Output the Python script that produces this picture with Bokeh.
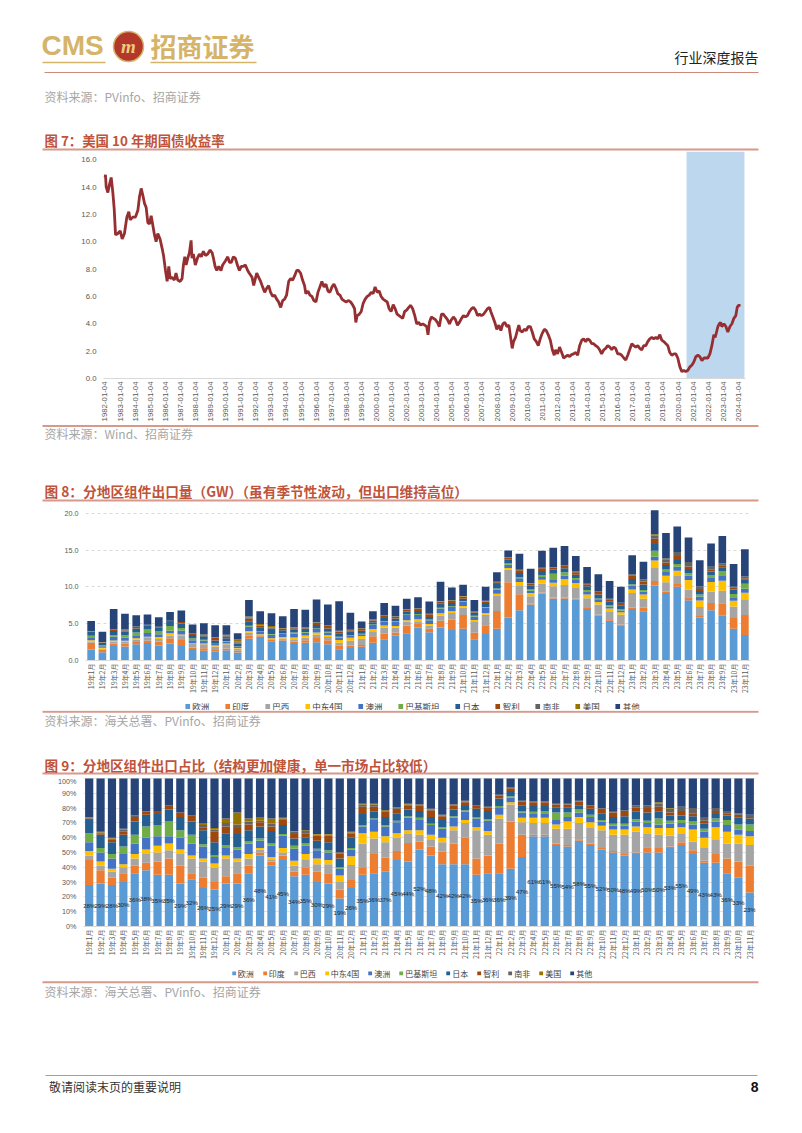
import math
from datetime import datetime
from bokeh.plotting import figure
from bokeh.layouts import column
from bokeh.models import (Range1d, FactorRange, Label, BoxAnnotation, Legend, LegendItem,
                          FixedTicker, NumeralTickFormatter, DatetimeTickFormatter, ColumnDataSource)
from bokeh.embed import file_html
from bokeh.resources import INLINE
from bokeh.core.properties import value

W = 802
CJK = "Noto Sans CJK SC"
LAT = "Liberation Sans"
GOLD = "#D5B469"
SALMON = "#D6998A"
TITLE = "#C0533A"
SRC = "#A6A6A6"
TICK = "#595959"

# ---------------- Figure 7 data: US 10Y yield (decimal year, %) ----------------
yield_t = [1982.00, 1982.04, 1982.09, 1982.20, 1982.31, 1982.42, 1982.53, 1982.62, 1982.71, 1982.86,
           1983.02, 1983.15, 1983.30, 1983.46, 1983.59, 1983.68, 1983.85, 1984.03, 1984.19, 1984.30,
           1984.41, 1984.52, 1984.63, 1984.74, 1984.85, 1984.96, 1985.07, 1985.18, 1985.29, 1985.40,
           1985.51, 1985.66, 1985.80, 1985.89, 1986.02, 1986.13, 1986.24, 1986.33, 1986.46, 1986.61,
           1986.72, 1986.83, 1986.99, 1987.12, 1987.21, 1987.30, 1987.39, 1987.50, 1987.61, 1987.72,
           1987.78, 1987.87, 1988.00, 1988.14, 1988.27, 1988.40, 1988.53, 1988.67, 1988.82, 1988.98,
           1989.11, 1989.20, 1989.31, 1989.42, 1989.55, 1989.70, 1989.81, 1989.99, 1990.15, 1990.26,
           1990.39, 1990.52, 1990.65, 1990.79, 1990.92, 1991.05, 1991.18, 1991.32, 1991.47, 1991.58,
           1991.76, 1991.87, 1991.98, 1992.07, 1992.20, 1992.33, 1992.46, 1992.60, 1992.73, 1992.86,
           1992.99, 1993.13, 1993.26, 1993.39, 1993.52, 1993.66, 1993.79, 1993.92, 1994.05, 1994.19,
           1994.32, 1994.45, 1994.58, 1994.72, 1994.85, 1994.98, 1995.11, 1995.24, 1995.33, 1995.47,
           1995.60, 1995.73, 1995.86, 1996.00, 1996.13, 1996.26, 1996.39, 1996.53, 1996.66, 1996.79,
           1996.92, 1997.06, 1997.19, 1997.32, 1997.45, 1997.59, 1997.72, 1997.85, 1997.98, 1998.16,
           1998.29, 1998.42, 1998.56, 1998.64, 1998.73, 1998.87, 1999.00, 1999.13, 1999.26, 1999.40,
           1999.53, 1999.66, 1999.79, 1999.92, 2000.06, 2000.19, 2000.32, 2000.45, 2000.59, 2000.72,
           2000.85, 2000.98, 2001.12, 2001.25, 2001.38,
           2001.75, 2001.88, 2002.01, 2002.15, 2002.28, 2002.41, 2002.55, 2002.68, 2002.81, 2002.94,
           2003.08, 2003.21, 2003.34, 2003.43, 2003.52, 2003.65, 2003.79, 2003.92, 2004.05, 2004.18,
           2004.32, 2004.45, 2004.58, 2004.72, 2004.85, 2004.98, 2005.11, 2005.25, 2005.38, 2005.51,
           2005.65, 2005.78, 2005.91, 2006.04, 2006.18, 2006.31, 2006.44, 2006.58, 2006.71, 2006.84,
           2006.97, 2007.11, 2007.24, 2007.37, 2007.51, 2007.59, 2007.73, 2007.86, 2007.99, 2008.13,
           2008.26, 2008.39, 2008.52, 2008.66, 2008.79, 2008.92, 2009.01, 2009.10, 2009.23, 2009.37,
           2009.45, 2009.54, 2009.68, 2009.81, 2009.94, 2010.07, 2010.21, 2010.34, 2010.47, 2010.61,
           2010.74, 2010.87, 2011.00, 2011.14, 2011.27, 2011.40, 2011.54, 2011.67, 2011.80, 2011.89,
           2012.02, 2012.15, 2012.29, 2012.42, 2012.55, 2012.69, 2012.82, 2012.95, 2013.08, 2013.22,
           2013.35, 2013.48, 2013.62, 2013.75, 2013.88, 2014.01, 2014.15, 2014.28, 2014.41, 2014.55,
           2014.68, 2014.81, 2014.94, 2015.08, 2015.21, 2015.34, 2015.48, 2015.61, 2015.74, 2015.87,
           2016.01, 2016.14, 2016.27, 2016.41, 2016.54, 2016.67, 2016.80, 2016.94, 2017.07, 2017.20,
           2017.34, 2017.47, 2017.60, 2017.73, 2017.87, 2018.00, 2018.13, 2018.27, 2018.40, 2018.53,
           2018.66, 2018.80, 2018.93, 2019.06, 2019.20, 2019.33, 2019.46, 2019.59, 2019.73, 2019.86,
           2019.99, 2020.13, 2020.26, 2020.39, 2020.52, 2020.66, 2020.79, 2020.92, 2021.05, 2021.19,
           2021.32, 2021.45, 2021.59, 2021.72, 2021.85, 2021.98, 2022.12, 2022.25, 2022.38, 2022.47,
           2022.56, 2022.65, 2022.74, 2022.83, 2022.91, 2023.05, 2023.18, 2023.31, 2023.45, 2023.58,
           2023.71, 2023.84, 2023.93, 2024.02, 2024.15]
yield_v = [14.7, 14.9, 14.0, 13.6, 14.2, 14.7, 13.6, 12.4, 10.5, 10.6,
           10.8, 10.2, 10.6, 11.8, 12.2, 11.6, 11.8, 11.8, 12.3, 13.3,
           13.9, 13.4, 12.8, 12.5, 11.4, 11.3, 11.9, 11.2, 10.5, 10.0,
           10.6, 10.2, 9.5, 9.0, 7.9, 7.1, 8.2, 7.3, 7.4, 7.2,
           7.7, 7.2, 7.1, 7.3, 8.3, 8.9, 8.3, 8.8, 9.2, 10.1,
           8.8, 9.1, 8.3, 8.8, 9.1, 8.9, 9.3, 9.0, 9.1, 9.4,
           9.2, 8.8, 8.2, 7.9, 8.2, 7.9, 8.3, 8.6, 8.9, 8.5,
           8.5, 8.9, 8.8, 8.3, 7.9, 8.2, 8.2, 8.3, 7.9, 7.7,
           7.4, 6.8, 7.3, 7.7, 7.4, 7.1, 6.7, 6.3, 6.6, 6.8,
           6.3, 6.0, 6.1, 5.8, 5.6, 5.2, 5.7, 5.8, 6.1, 7.1,
           7.3, 7.2, 7.5, 7.9, 7.9, 7.7, 7.2, 6.8, 6.2, 6.4,
           6.1, 6.0, 5.7, 5.6, 6.3, 6.7, 7.1, 6.7, 6.9, 6.4,
           6.3, 6.7, 6.9, 6.6, 6.2, 6.1, 5.8, 5.7, 5.6, 5.7,
           5.6, 5.4, 5.1, 4.1, 4.6, 4.7, 4.9, 5.5, 5.8, 6.0,
           6.1, 6.3, 6.2, 6.7, 6.3, 6.4, 6.0, 5.8, 5.7, 5.6,
           5.1, 4.9, 5.4, 5.1, 4.7,
           4.4, 4.9, 5.0, 5.2, 5.35, 5.1, 4.6, 4.0, 4.1, 3.9,
           4.0, 3.9, 3.8, 3.2, 4.1, 4.5, 4.4, 4.3, 4.1, 3.8,
           4.7, 4.7, 4.5, 4.3, 4.0, 4.3, 4.5, 4.3, 3.9, 4.1,
           4.4, 4.6, 4.5, 4.6, 4.9, 5.1, 5.2, 5.0, 4.6, 4.7,
           4.6, 4.7, 4.9, 5.1, 5.2, 4.9, 4.5, 4.1, 3.6, 3.9,
           3.5, 4.0, 4.1, 3.8, 3.9, 2.9, 2.2, 2.7, 3.0, 3.6,
           3.9, 3.5, 3.4, 3.6, 3.5, 3.8, 3.8, 3.4, 2.9, 2.7,
           2.4, 2.9, 3.3, 3.6, 3.5, 3.2, 2.8, 2.1, 1.7, 2.1,
           1.8, 2.3, 1.9, 1.5, 1.6, 1.7, 1.6, 1.75, 1.8, 1.9,
           1.7, 2.4, 2.8, 2.9, 2.7, 2.9, 2.8, 2.55, 2.55, 2.4,
           2.3, 2.1, 1.8, 2.1, 2.2, 2.4, 2.3, 2.1, 2.3, 2.2,
           1.8, 1.8, 1.7, 1.5, 1.35, 1.7, 2.1, 2.55, 2.4, 2.3,
           2.4, 2.2, 2.1, 2.4, 2.4, 2.7, 2.9, 3.0, 2.9, 3.0,
           2.9, 3.2, 2.8, 2.7, 2.55, 2.4, 1.9, 1.7, 1.8, 1.8,
           1.5, 0.85, 0.5, 0.6, 0.5, 0.6, 0.85, 0.97, 1.2, 1.6,
           1.7, 1.6, 1.3, 1.5, 1.5, 1.5, 1.8, 2.4, 3.2, 3.0,
           3.4, 3.8, 4.0, 4.1, 3.8, 4.0, 3.8, 3.4, 3.8, 4.0,
           4.4, 4.6, 5.2, 5.35, 5.35]
shade_start, shade_end = 2020.57, 2024.41
yield_axis_years = list(range(1982, 2025))

# ---------------- Figures 8 / 9 data ----------------
months = [f"{y}年{m}月" for y in (19, 20, 21, 22, 23) for m in range(1, 13)][:59]
regions = ["欧洲", "印度", "巴西", "中东4国", "澳洲", "巴基斯坦", "日本", "智利", "南非", "美国", "其他"]
keys = ["eu", "ind", "bra", "mea", "aus", "pak", "jpn", "chl", "zaf", "usa", "oth"]
colors = ["#5B9BD5", "#ED7D31", "#A5A5A5", "#FFC000", "#4472C4", "#70AD47",
          "#255E91", "#9E480E", "#636363", "#997300", "#264478"]

# monthly module exports, GW
total_gw = [5.36, 3.9, 7.0, 6.36, 6.14, 6.23, 5.86, 6.6, 6.8, 4.9, 5.05, 4.77,
            4.8, 3.7, 8.2, 6.7, 6.4, 6.0, 7.0, 6.9, 8.3, 7.6, 8.05, 6.5,
            5.3, 6.7, 7.8, 7.45, 8.4, 8.6, 8.0, 10.7, 9.9, 10.3, 8.2, 10.0,
            12.0, 14.95, 14.5, 12.45, 14.9, 15.3, 15.55, 14.2, 12.7, 11.7, 10.8, 10.0,
            14.3, 13.4, 20.4, 17.3, 18.2, 16.7, 13.6, 15.9, 16.9, 13.1, 15.1]

# regional shares, %
eu = [28, 29, 28, 30, 36, 38, 35, 35, 29, 32, 26, 25,
      29, 29, 36, 48, 41, 45, 34, 35, 30, 29, 19, 26,
      35, 36, 37, 45, 44, 52, 48, 42, 42, 42, 35, 36,
      36, 39, 47, 61, 61, 55, 54, 58, 55, 52, 50, 48,
      49, 50, 50, 53, 55, 49, 43, 43, 36, 33, 23]
ind = [17, 9, 5, 6, 5, 5, 9, 11, 12, 4, 7, 5,
       5, 7, 5, 2, 3, 3, 3, 5, 7, 7, 6, 5.5,
       4.5, 13, 9.5, 6, 12.5, 5.5, 6, 8.5, 14, 18, 11, 12,
       20, 32, 15, 1, 1, 1, 1, 1, 1, 1, 1, 1,
       1, 3.5, 3, 1, 2, 2.5, 1.5, 6, 10, 11, 18]
bra = [3, 3, 4, 4, 5, 6, 6, 5.5, 8, 10, 11, 9.5,
       12, 8, 5, 2, 1.5, 2, 4, 5.5, 5, 6, 5, 10,
       16.5, 10.5, 10.5, 9, 6, 4.5, 5, 6.5, 9, 10, 19, 14,
       17, 11.5, 8.5, 8, 8, 10, 11, 11, 10.5, 12, 11, 13,
       14, 9, 9, 7.5, 6, 6, 9, 10, 10, 12, 14]
mea = [3, 3, 2, 2, 3, 3, 4.5, 4.5, 3, 2, 2, 3,
       2, 2, 3, 1, 1.5, 3, 3.5, 3.5, 4, 3, 4.5, 6,
       7, 4.5, 4, 3, 2.5, 3, 3, 3, 2.5, 2, 2, 2.5,
       2.5, 1.5, 3, 3.5, 3.5, 3, 5, 4, 4, 3, 3.5, 3.5,
       3.5, 4.5, 4.5, 5, 4, 8, 6.5, 8, 8, 6, 6]
aus = [6, 6, 7, 7, 7, 8, 6.5, 5, 8, 8, 8, 4.5,
       5, 6, 7, 5, 7.5, 8.5, 8, 5.5, 5.5, 5, 4.5, 4.5,
       4.5, 8, 6.5, 7.5, 8.5, 7, 6.5, 6, 6, 5.5, 6, 7,
       4.5, 3, 3.5, 2.5, 2.5, 3, 3, 3, 3.5, 3, 2.5, 2.5,
       3.5, 3, 2.5, 3, 3, 3.5, 4, 4, 4.5, 3.5, 3.5]
pak = [6, 3, 3, 5, 6, 7.5, 7.5, 10, 5, 6, 1.5, 1,
       2, 1.5, 1.5, 1.5, 1.5, 1, 2, 1.5, 1, 1.5, 1, 1,
       1, 1, 1, 1, 1, 1.5, 1, 1, 1, 1, 1, 1,
       1.5, 1, 1, 1.5, 2, 5, 3, 2, 1.5, 1, 1.5, 1.5,
       1.5, 1.5, 4, 2, 2, 2, 2, 2, 3.5, 3.5, 4.5]
jpn = [9, 9, 8, 8, 9, 8, 7.5, 8, 9, 9, 9.5, 9,
       8, 9, 7.5, 8, 8.5, 6, 5, 4, 5.5, 5.5, 6, 7,
       7.5, 4.5, 5.5, 5, 4.5, 4.5, 4.5, 5, 4.5, 3, 5.5, 5.5,
       5, 3.5, 4, 4, 3.5, 3.5, 3.5, 3, 4, 4.5, 4.5, 5,
       5, 5.5, 4.5, 3.5, 3, 3.5, 3.5, 3, 3, 4.5, 4]
chl = [1, 1, 2, 2, 3, 2, 2, 3, 3, 4, 2, 7,
       4.5, 4, 4, 3, 3, 4, 3, 3, 3.5, 4.5, 3, 3,
       5, 3.5, 3.5, 3, 3, 3.5, 4.5, 2.5, 2.5, 2.5, 2, 2,
       2, 2, 2.5, 2.5, 2.5, 2, 2, 2.5, 2, 3, 3, 3.5,
       3, 3, 3.5, 2, 3, 2, 2, 2, 1.5, 2, 1]
zaf = [0.5, 0.5, 0.5, 1.5, 1, 0.5, 0, 0, 0, 0, 1.5, 1.5,
       2.5, 2.5, 2, 1, 2, 0.5, 1.5, 1.5, 0.5, 0.5, 0.5, 0.5,
       1.5, 1.5, 0.5, 0.5, 0.5, 0.5, 0.5, 0.5, 0.5, 0.5, 0.5, 0.5,
       0.5, 0.5, 0.5, 0.5, 0.5, 0.5, 0.5, 0.5, 0.5, 0.5, 0.5, 0.5,
       1.5, 2, 2, 2.5, 3, 3.5, 2.5, 2, 1.5, 1, 1.5]
usa = [0.5, 0.5, 0.5, 0.5, 0, 0, 0, 0, 0, 0, 1.5, 1,
       3, 8, 2, 2.5, 3.5, 0.5, 0.5, 0.5, 0.5, 0.5, 0.5, 0.5,
       0.5, 0.5, 0.5, 0.5, 0.5, 0.5, 0.5, 0.5, 0.5, 0.5, 0, 0.5,
       0, 0, 0, 0, 0, 0, 0, 0, 0, 0, 0, 0,
       0, 0, 1, 0.5, 0, 0, 0, 0, 0, 0, 0]
oth = [26, 36, 40, 34, 25, 22, 22, 18, 23, 25, 30, 33.5,
       27, 23, 27, 26, 27, 26.5, 35.5, 35, 37.5, 37.5, 50, 36,
       17, 17, 21.5, 19.5, 17, 17.5, 20.5, 24.5, 17.5, 15, 18, 19,
       11, 6, 15, 15.5, 15.5, 17, 17, 15, 18, 20, 22.5, 21.5,
       18, 18, 16, 20, 19, 20, 26, 20, 22, 23.5, 24.5]
shares = [eu, ind, bra, mea, aus, pak, jpn, chl, zaf, usa, oth]


# ---------------- helpers ----------------
def to_dt(y):
    yi = int(y)
    a, b = datetime(yi, 1, 1), datetime(yi + 1, 1, 1)
    return a + (b - a) * (y - yi)


def ms(d):
    return (d - datetime(1970, 1, 1)).total_seconds() * 1000.0


def no_align(p):
    try:
        p.frame_align = False
    except Exception:
        pass
    return p


def deco(h, left=0):
    p = figure(width=W, height=h, x_range=Range1d(0, W), y_range=Range1d(h, 0),
               output_backend="svg", toolbar_location=None, min_border=0,
               x_axis_location=None, y_axis_location=None)
    p.min_border_left = left
    p.grid.visible = False
    p.outline_line_color = None
    return no_align(p)


def txt(p, x, y, s, size, color, font=CJK, style="normal", align="left"):
    p.add_layout(Label(x=x, y=y, text=s, text_font=font, text_font_size=f"{size}px",
                       text_color=color, text_font_style=style, text_align=align,
                       text_baseline="middle"))


def rule(p, x0, x1, y, color, w):
    p.segment(x0=[x0], y0=[y], x1=[x1], y1=[y], line_color=color, line_width=w)


def style_axes(p, size="7.2px"):
    for ax in (p.xaxis[0], p.yaxis[0]):
        ax.major_tick_line_color = None
        ax.minor_tick_line_color = None
        ax.major_tick_out = 0
        ax.minor_tick_out = 0
        ax.major_label_text_font_size = size
        ax.major_label_text_color = TICK
        ax.major_label_text_font = LAT
    p.yaxis[0].axis_line_color = None
    p.yaxis[0].major_label_standoff = 7
    p.xaxis[0].axis_line_color = "#D9D9D9"
    p.xaxis[0].major_label_standoff = 3
    p.outline_line_color = None


def legend_strip(h, left, font_size, glyph, spacing):
    # legend keys: zero-height proxy bars placed left of the strip's visible range
    p = deco(h, left)
    rs = [p.vbar(x=[-50], top=[0], bottom=[0], width=1, fill_color=c, line_color=None) for c in colors]
    leg = Legend(items=[LegendItem(label=value(n), renderers=[r]) for n, r in zip(regions, rs)],
                 orientation="horizontal", location="center",
                 label_text_font=CJK, label_text_font_size=font_size, label_text_color="#404040",
                 glyph_width=glyph, glyph_height=glyph, label_height=h - 1, label_width=0,
                 label_standoff=2, spacing=int(spacing), padding=0, margin=0,
                 border_line_color=None, background_fill_alpha=0)
    p.add_layout(leg)
    return p


# ---------------- header + title 7 (page y 0..151) ----------------
pa = deco(151)
txt(pa, 41, 45, "CMS", 28, GOLD, font=LAT, style="bold")
pa.circle(x=[128], y=[46], radius=15, fill_color="#B3372A", line_color=GOLD, line_width=1.5)
txt(pa, 128, 46, "m", 19, "#EBCB7C", font="Liberation Serif", style="bold italic", align="center")
txt(pa, 150, 45, "招商证券", 26, GOLD, style="bold")
rule(pa, 42, 105, 62, GOLD, 1.5)
rule(pa, 150, 256, 62, GOLD, 1.5)
txt(pa, 758, 56, "行业深度报告", 14, "#222222", align="right")
rule(pa, 44, 758, 72, "#CC8A7C", 1.2)
txt(pa, 44, 96, "资料来源：PVinfo、招商证券", 12, SRC)
txt(pa, 44, 139, "图 7：美国 10 年期国债收益率", 13.4, TITLE, style="bold")
rule(pa, 42, 758, 149, SALMON, 2)

# ---------------- Figure 7 (page y 151..424) ----------------
p7 = figure(width=W, height=273, x_axis_type="datetime",
            x_range=Range1d(to_dt(1981.91), to_dt(2024.48)), y_range=Range1d(0, 16.6),
            output_backend="svg", toolbar_location=None,
            min_border_left=103, min_border_right=57, min_border_top=0, min_border_bottom=46)
no_align(p7)
p7.grid.visible = False
style_axes(p7, "7.8px")
p7.yaxis[0].ticker = FixedTicker(ticks=list(range(0, 17, 2)))
p7.yaxis[0].formatter = NumeralTickFormatter(format="0.0")
p7.xaxis[0].ticker = FixedTicker(ticks=[ms(datetime(y, 1, 4)) for y in yield_axis_years])
p7.xaxis[0].formatter = DatetimeTickFormatter(years="%Y-%m-%d", months="%Y-%m-%d", days="%Y-%m-%d")
p7.xaxis[0].major_label_orientation = math.pi / 2
p7.add_layout(BoxAnnotation(left=to_dt(shade_start), right=to_dt(shade_end),
                            fill_color="#BDD7EE", fill_alpha=1.0, line_color=None, level="underlay"))
p7.line(x=[to_dt(t) for t in yield_t], y=yield_v, line_color="#962F31", line_width=2.8)

# ---------------- band between 7 and 8 (page y 424..505) ----------------
pc = deco(81)
rule(pc, 42, 758, 1.5, SALMON, 2)
txt(pc, 44, 8.5, "资料来源：Wind、招商证券", 12, SRC)
txt(pc, 44, 66, "图 8：分地区组件出口量（GW）（虽有季节性波动，但出口维持高位）", 13.7, TITLE, style="bold")
rule(pc, 42, 758, 76, SALMON, 2)

# ---------------- Figure 8 (page y 505..701) ----------------
sums = [sum(s[i] for s in shares) for i in range(len(months))]
d8 = {"m": months}
d9 = {"m": months}
for k, s in zip(keys, shares):
    d8[k] = [total_gw[i] * s[i] / sums[i] for i in range(len(months))]
    d9[k] = [s[i] / sums[i] for i in range(len(months))]
src8 = ColumnDataSource(d8)
src9 = ColumnDataSource(d9)

p8 = figure(width=W, height=196, x_range=FactorRange(factors=months), y_range=Range1d(0, 20.64),
            output_backend="svg", toolbar_location=None,
            min_border_left=85, min_border_right=52, min_border_top=3, min_border_bottom=41)
no_align(p8)
style_axes(p8, "7.2px")
p8.xgrid.visible = False
p8.ygrid[0].ticker = FixedTicker(ticks=[5, 10, 15, 20])
p8.ygrid.grid_line_color = "#D9D9D9"
p8.ygrid.grid_line_dash = "3 3"
p8.yaxis[0].ticker = FixedTicker(ticks=[0, 5, 10, 15, 20])
p8.yaxis[0].formatter = NumeralTickFormatter(format="0.0")
p8.xaxis[0].major_label_orientation = math.pi / 2
p8.xaxis[0].major_label_text_font = CJK
p8.xaxis[0].major_label_text_font_size = "7px"
p8.vbar_stack(keys, x="m", width=0.68, color=colors, line_color=None, source=src8)

leg8 = legend_strip(9, 22, "8.5px", 6, 15)      # page y 701..710

# ---------------- band between 8 and 9 (page y 710..776) ----------------
pe = deco(66)
rule(pe, 42, 758, 1.2, SALMON, 2)
txt(pe, 44, 9.5, "资料来源：海关总署、PVinfo、招商证券", 12, SRC)
txt(pe, 44, 54, "图 9：分地区组件出口占比（结构更加健康，单一市场占比较低）", 13.6, TITLE, style="bold")
rule(pe, 42, 758, 63, SALMON, 2)

# ---------------- Figure 9 (page y 776..967) ----------------
p9 = figure(width=W, height=191, x_range=FactorRange(factors=months), y_range=Range1d(0, 1.0068),
            output_backend="svg", toolbar_location=None,
            min_border_left=83, min_border_right=47, min_border_top=1, min_border_bottom=41)
no_align(p9)
style_axes(p9, "7.2px")
p9.xgrid.visible = False
p9.ygrid[0].ticker = FixedTicker(ticks=[i / 10 for i in range(1, 11)])
p9.ygrid.grid_line_color = "#E3E3E3"
p9.yaxis[0].ticker = FixedTicker(ticks=[i / 10 for i in range(0, 11)])
p9.yaxis[0].formatter = NumeralTickFormatter(format="0%")
p9.xaxis[0].major_label_orientation = math.pi / 2
p9.xaxis[0].major_label_text_font = CJK
p9.xaxis[0].major_label_text_font_size = "7px"
p9.vbar_stack(keys, x="m", width=0.72, color=colors, line_color=None, source=src9)
lab9 = ColumnDataSource({"m": months, "y": [v / 2 for v in d9["eu"]], "t": [f"{int(v)}%" for v in eu]})
p9.text(x="m", y="y", text="t", source=lab9, text_align="center", text_baseline="middle",
        text_font=value(LAT), text_font_size="6.2px", text_color="#1F1F1F")

leg9 = legend_strip(12, 21, "8px", 5, 8)        # page y 967..979

# ---------------- footer (page y 979..1133) ----------------
pg = deco(154)
rule(pg, 42, 758, 2.7, SALMON, 2)
txt(pg, 44, 12, "资料来源：海关总署、PVinfo、招商证券", 12, SRC)
rule(pg, 45, 757, 96, "#A0A0A0", 1)
txt(pg, 48.5, 107, "敬请阅读末页的重要说明", 12, "#333333")
txt(pg, 758, 107, "8", 14, "#111111", font=LAT, style="bold", align="right")

page = column(pa, p7, pc, p8, leg8, pe, p9, leg9, pg, spacing=0)
open("out.html", "w").write(file_html(page, INLINE))
